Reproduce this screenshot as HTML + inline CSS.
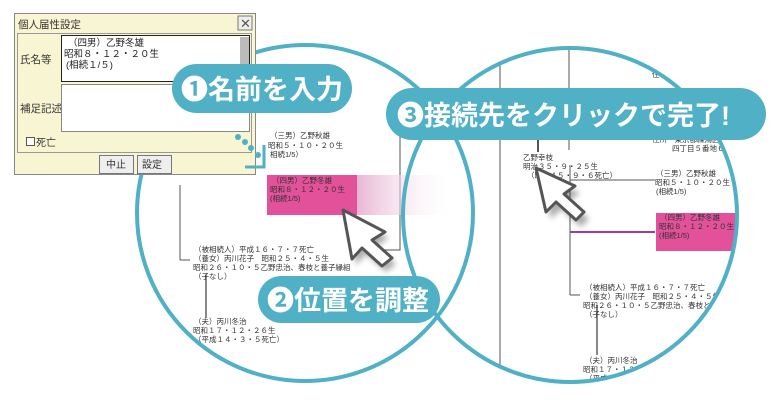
<!DOCTYPE html>
<html><head><meta charset="utf-8"><style>
body{margin:0;width:780px;height:400px;overflow:hidden;background:#fff;font-family:"Liberation Sans","Noto Sans CJK JP",sans-serif;}
svg text{font-family:"Liberation Sans","Noto Sans CJK JP",sans-serif;}
.s{font-size:7.5px;fill:#333}
.p{font-size:27px;font-weight:bold;fill:#fff}
</style></head><body>
<svg width="780" height="400" viewBox="0 0 780 400" xmlns="http://www.w3.org/2000/svg">
<defs>
<linearGradient id="fade" x1="0" x2="1"><stop offset="0" stop-color="#e8b6d4"/><stop offset="1" stop-color="#fff" stop-opacity="0"/></linearGradient>
<clipPath id="cR"><circle cx="570" cy="215" r="167"/></clipPath>
<filter id="sh"><feGaussianBlur stdDeviation="3"/></filter>
</defs>
<!-- left circle contents -->
<line x1="180" y1="185" x2="180" y2="260" stroke="#555"/>
<line x1="180" y1="260" x2="190" y2="260" stroke="#555"/>
<line x1="206" y1="275" x2="206" y2="318" stroke="#888" stroke-width="2"/>
<polyline points="400,135 400,250 375,250" fill="none" stroke="#555"/>
<text class="s" x="270" y="138">（三男）乙野秋雄</text>
<text class="s" x="268" y="148">昭和５・１０・２０生</text>
<text class="s" x="270" y="157">相続1/5）</text>
<rect x="267" y="175" width="90" height="40" fill="#e2519a"/>
<rect x="357" y="175" width="100" height="40" fill="url(#fade)"/>
<text class="s" x="272" y="183">（四男）乙野冬雄</text>
<text class="s" x="270" y="192">昭和８・１２・２０生</text>
<text class="s" x="270" y="201">(相続1/5)</text>
<text class="s" x="194" y="252">（被相続人）平成１６・７・７死亡</text>
<text class="s" x="194" y="261">（養女）丙川花子　昭和２５・４・５生</text>
<text class="s" x="193" y="270">昭和２６・１０・５乙野忠治、春枝と養子縁組</text>
<text class="s" x="194" y="279">（子なし）</text>
<text class="s" x="194" y="324">（夫）丙川冬治</text>
<text class="s" x="193" y="333">昭和１７・１２・２６生</text>
<text class="s" x="194" y="342">（平成１４・３・５死亡）</text>
<!-- cursor left -->
<polygon points="343,210 385,232 372,240 392,258 382,266 362,248 352,259" fill="#333" filter="url(#sh)" opacity="0.4" transform="translate(4,6)"/>
<polygon points="343,210 385,232 372,240 392,258 382,266 362,248 352,259" fill="#fff" stroke="#555" stroke-width="3" stroke-linejoin="round"/>
<!-- right circle -->
<g clip-path="url(#cR)">
<line x1="500" y1="40" x2="500" y2="400" stroke="#555"/>
<line x1="569" y1="40" x2="569" y2="150" stroke="#555"/>
<line x1="538" y1="140" x2="538" y2="152" stroke="#555" stroke-width="2"/>
<line x1="570" y1="165" x2="570" y2="295" stroke="#555"/>
<line x1="570" y1="180" x2="655" y2="180" stroke="#555"/>
<line x1="570" y1="295" x2="580" y2="295" stroke="#555"/>
<line x1="570" y1="232" x2="655" y2="232" stroke="#a03c96" stroke-width="2"/>
<line x1="597" y1="305" x2="597" y2="355" stroke="#888" stroke-width="2"/>
<text class="s" x="652" y="77">住</text>
<text class="s" x="652" y="142">住所　東京都練馬区向山</text>
<text class="s" x="672" y="151">四丁目５番地６号</text>
<text class="s" x="523" y="160">乙野幸枝</text>
<text class="s" x="523" y="169">明治３５・９・２５生</text>
<text class="s" x="527" y="178">（昭和４５・９・６死亡）</text>
<text class="s" x="656" y="176">（三男）乙野秋雄</text>
<text class="s" x="655" y="185">昭和５・１０・２０生</text>
<text class="s" x="656" y="194">(相続1/5)</text>
<rect x="656" y="213" width="90" height="38" fill="#e2519a"/>
<text class="s" x="660" y="220">（四男）乙野冬雄</text>
<text class="s" x="659" y="229">昭和８・１２・２０生</text>
<text class="s" x="659" y="238">(相続1/5)</text>
<text class="s" x="585" y="290">（被相続人）平成１６・７・７死亡</text>
<text class="s" x="585" y="299">（養女）丙川花子　昭和２５・４・５生</text>
<text class="s" x="583" y="308">昭和２６・１０・５乙野忠治、春枝と養子縁組</text>
<text class="s" x="585" y="317">（子なし）</text>
<text class="s" x="585" y="363">（夫）丙川冬治</text>
<text class="s" x="583" y="372">昭和１７・１２・２６生</text>
<text class="s" x="585" y="381">（平成１４・３・５死亡）</text>
</g>
<polygon points="536,168 575,186 564,194 584,212 576,220 556,202 546,212" fill="#333" filter="url(#sh)" opacity="0.4" transform="translate(5,7)"/>
<polygon points="536,168 575,186 564,194 584,212 576,220 556,202 546,212" fill="#fff" stroke="#555" stroke-width="3" stroke-linejoin="round"/>
<circle cx="305" cy="213" r="168" fill="none" stroke="#4fb0c6" stroke-width="4"/>
<circle cx="570" cy="215" r="167" fill="none" stroke="#4fb0c6" stroke-width="4"/>
<!-- dialog -->
<rect x="14.5" y="13.5" width="241" height="161" fill="#f8f6d2" stroke="#888"/>
<text x="18" y="28" font-size="10.5" fill="#333">個人届性設定</text>
<rect x="238" y="16" width="14" height="14" fill="#eee" stroke="#777"/>
<text x="240" y="28" font-size="13" fill="#555">✕</text>
<rect x="17.5" y="33.5" width="234" height="119" fill="none" stroke="#999"/>
<text x="20" y="63" font-size="10.5" fill="#333">氏名等</text>
<text x="20" y="112" font-size="10.5" fill="#333">補足記述</text>
<rect x="61.5" y="35.5" width="188" height="46" fill="#fff" stroke="#222"/>
<rect x="240" y="37" width="9" height="44" fill="#bbb"/>
<text x="68" y="46" font-size="9.5" fill="#222">（四男）乙野冬雄</text>
<text x="64" y="57" font-size="9.5" fill="#222">昭和８・１２・２０生</text>
<text x="66" y="68" font-size="9.5" fill="#222">(相続１/５)</text>
<rect x="61.5" y="84.5" width="188" height="47" fill="#fff" stroke="#888"/>
<rect x="26.5" y="137.5" width="8" height="8" fill="#fff" stroke="#555"/>
<text x="36" y="146" font-size="10" fill="#333">死亡</text>
<rect x="99.5" y="155.5" width="34" height="18" fill="#eee" stroke="#777"/>
<text x="106" y="168" font-size="10" fill="#333">中止</text>
<rect x="137.5" y="155.5" width="34" height="18" fill="#eee" stroke="#777"/>
<text x="142" y="168" font-size="10" fill="#333">設定</text>
<!-- dots + corner -->
<circle cx="238" cy="137" r="3" fill="#4fb0c6"/><circle cx="245" cy="142" r="3" fill="#4fb0c6"/><circle cx="251" cy="148" r="3" fill="#4fb0c6"/><circle cx="258" cy="155" r="3" fill="#4fb0c6"/>
<polyline points="245,167 264,167 264,145" fill="none" stroke="#4fb0c6" stroke-width="3"/>
<!-- pills -->
<rect x="172" y="64" width="180" height="49" rx="24.5" fill="#4fb0c6"/>
<text class="p" x="181" y="99" font-size="28">❶名前を入力</text>
<rect x="386" y="88" width="380" height="52" rx="26" fill="#4fb0c6"/>
<text class="p" x="397" y="125">❸接続先をクリックで完了!</text>
<rect x="258" y="276" width="182" height="47" rx="23.5" fill="#4fb0c6"/>
<text class="p" x="267" y="310">❷位置を調整</text>
</svg>
</body></html>
